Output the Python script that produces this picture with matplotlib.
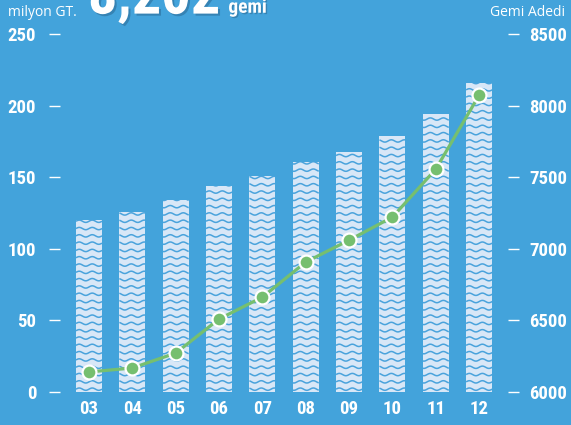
import matplotlib
matplotlib.use("Agg")
import matplotlib.pyplot as plt
import matplotlib.patheffects as pe
from matplotlib import font_manager as fm
import numpy as np

years = ["03", "04", "05", "06", "07", "08", "09", "10", "11", "12"]
tonnage = [120, 126, 134, 144, 151, 161, 168, 179, 194, 216]  # milyon GT
ships = [6140, 6168, 6272, 6510, 6663, 6908, 7061, 7222, 7557, 8074]  # gemi adedi

bg = "#43a3db"
bar_fill = "#d8e7f7"
wave_col = "#4aa3dc"
green = "#76bf6f"

# pick a narrow bold font if one is around
names = {f.name for f in fm.fontManager.ttflist}
narrow = None
for n in ["Liberation Sans Narrow", "Roboto Condensed", "Open Sans Condensed",
          "Noto Sans Condensed", "DejaVu Sans Condensed"]:
    if n in names:
        narrow = n
        break
stretch = "normal"
if narrow is None:
    if any(f.name == "DejaVu Sans" and f.stretch == "condensed" for f in fm.fontManager.ttflist):
        narrow, stretch = "DejaVu Sans", "condensed"
    else:
        narrow = "Roboto"
scale = 1.0 if narrow != "Roboto" else 0.88

plt.rcParams["font.family"] = [narrow, "DejaVu Sans"]
plt.rcParams["font.stretch"] = stretch

fig = plt.figure(figsize=(5.71, 4.25), dpi=100, facecolor=bg)
ax = fig.add_axes([0.105, 0.0776, 0.785, 0.842])
ax.set_facecolor(bg)
ax2 = ax.twinx()

x = np.arange(len(years))
bars = ax.bar(x, tonnage, width=0.6, color=bar_fill, zorder=1)

# wavy pattern inside the bars
for b in bars:
    xs = np.linspace(b.get_x(), b.get_x() + b.get_width(), 80)
    for y0 in np.arange(2.0, b.get_height() + 3, 5.1):
        ln, = ax.plot(xs, y0 + 0.8 * np.sin(2 * np.pi * xs / 0.3), color=wave_col,
                      lw=1.1, zorder=2, solid_capstyle="butt")
        ln.set_clip_path(b)

ax2.plot(x, ships, color=green, lw=2.3, marker="o", markersize=10,
         markerfacecolor=green, markeredgecolor="white", markeredgewidth=1.6, zorder=5)

ax.set_xlim(-0.67, 9.67)
ax.set_ylim(0, 250)
ax2.set_ylim(6000, 8500)
ax.set_yticks([0, 50, 100, 150, 200, 250])
ax2.set_yticks([6000, 6500, 7000, 7500, 8000, 8500])
ax.set_xticks(x)
ax.set_xticklabels(years)

for a in (ax, ax2):
    for s in a.spines.values():
        s.set_visible(False)

fs = 13.5 * scale
ax.tick_params(axis="y", colors="white", length=8, width=1, pad=9, labelsize=fs)
ax2.tick_params(axis="y", colors="white", length=8, width=1, pad=7, labelsize=fs)
ax.tick_params(axis="x", length=0, pad=6, labelsize=fs, colors="white")
for t in ax.get_xticklabels() + ax.get_yticklabels() + ax2.get_yticklabels():
    t.set_fontweight("bold")
ax2.set_zorder(ax.get_zorder() + 1)

fig.text(0.014, 0.962, "milyon GT.", color="white", fontsize=10,
         family=["Open Sans", "DejaVu Sans"], stretch="normal")
fig.text(0.99, 0.962, "Gemi Adedi", color="white", fontsize=10, ha="right",
         family=["Open Sans", "DejaVu Sans"], stretch="normal")
shadow = pe.withSimplePatchShadow(offset=(1.5, -1.5), shadow_rgbFace="#2c6f9a", alpha=0.6)
fig.text(0.154, 0.968, "8,202", color="white", fontsize=42 * scale, fontweight="bold",
         path_effects=[shadow])
fig.text(0.40, 0.97, "gemi", color="white", fontsize=14 * scale, fontweight="bold",
         path_effects=[pe.withSimplePatchShadow(offset=(1, -1), shadow_rgbFace="#2c6f9a", alpha=0.6)])

fig.savefig("out.png", dpi=100, facecolor=bg)
